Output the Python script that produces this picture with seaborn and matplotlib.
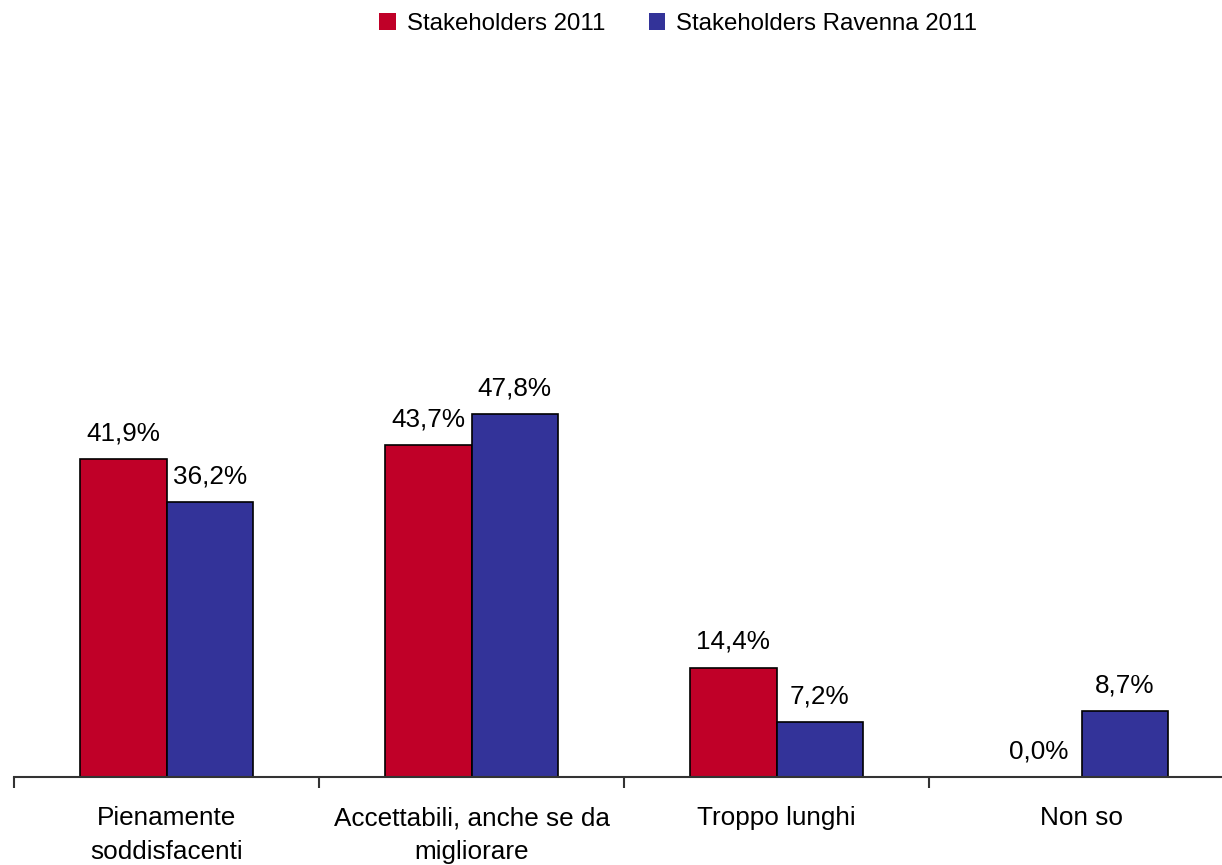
import matplotlib
matplotlib.use("Agg")
import matplotlib.pyplot as plt
import seaborn as sns
import pandas as pd

categories = ["Pienamente\nsoddisfacenti", "Accettabili, anche se da\nmigliorare",
              "Troppo lunghi", "Non so"]
series_names = ["Stakeholders 2011", "Stakeholders Ravenna 2011"]
stakeholders_2011 = [41.9, 43.7, 14.4, 0.0]
stakeholders_ravenna_2011 = [36.2, 47.8, 7.2, 8.7]
colors = ["#C00028", "#333399"]

df = pd.DataFrame({
    "categoria": categories * 2,
    "serie": [series_names[0]] * 4 + [series_names[1]] * 4,
    "valore": stakeholders_2011 + stakeholders_ravenna_2011,
})

sns.set_theme(style="white")
plt.rcParams["font.family"] = ["Liberation Sans", "DejaVu Sans"]
plt.rcParams["text.color"] = "black"
plt.rcParams["xtick.color"] = "black"

fig = plt.figure(figsize=(12.22, 8.65), dpi=100)
ax = fig.add_axes([14 / 1222, 88 / 865, 1220 / 1222, 759 / 865])

sns.barplot(data=df, x="categoria", y="valore", hue="serie", order=categories,
            hue_order=series_names, palette=colors, width=0.567, gap=0,
            edgecolor="black", linewidth=1.2, saturation=1, errorbar=None,
            legend=True, ax=ax)

ax.set_xlim(-0.5, 3.5)
ax.set_ylim(0, 100)
ax.set_xlabel("")
ax.set_ylabel("")
ax.set_yticks([])

for s in ["left", "top", "right"]:
    ax.spines[s].set_visible(False)
ax.spines["bottom"].set_color("#333333")
ax.spines["bottom"].set_linewidth(1.5)

ax.set_xticks(range(len(categories)))
ax.set_xticklabels(categories, fontsize=18.8, linespacing=1.5, color="black")
ax.tick_params(axis="x", which="major", length=0, pad=21, bottom=True)
ax.set_xticks([-0.5, 0.5, 1.5, 2.5, 3.5], minor=True)
ax.tick_params(axis="x", which="minor", bottom=True, length=8, width=1.5,
               color="#333333", direction="out")

for container in ax.containers:
    ax.bar_label(container,
                 labels=[f"{v:.1f}%".replace(".", ",") for v in container.datavalues],
                 padding=10, fontsize=18.8, color="black")

handles, labels = ax.get_legend_handles_labels()
leg = ax.legend(handles, labels, loc="upper center", bbox_to_anchor=(0.555, 1.01),
                bbox_transform=fig.transFigure, ncol=2, frameon=False, fontsize=17.3,
                handlelength=0.7, handleheight=0.7, handletextpad=0.45,
                columnspacing=1.8)
for h in leg.legend_handles:
    h.set_edgecolor("none")
for t in leg.get_texts():
    t.set_color("black")

fig.savefig("out.png", dpi=100)
